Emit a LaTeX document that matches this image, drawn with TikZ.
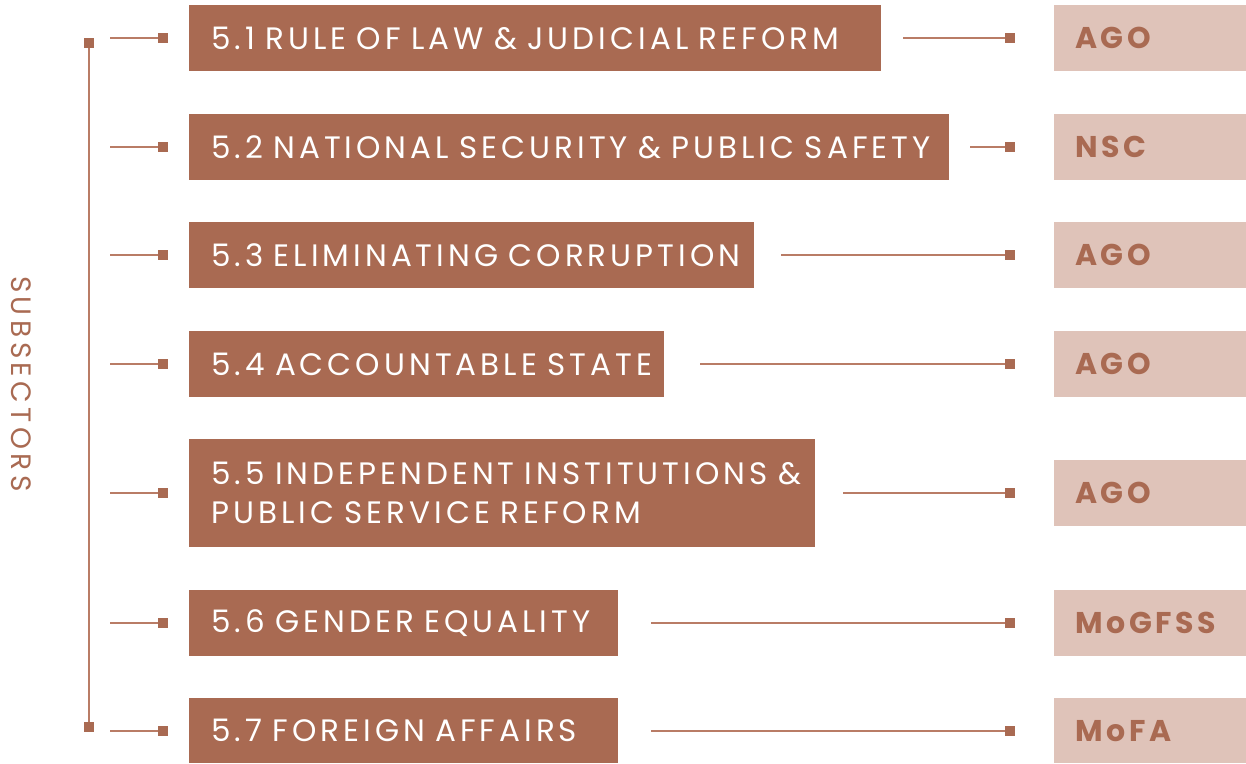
\documentclass[tikz,border=0pt]{standalone}
\usepackage{fontspec}
\setmainfont{Poppins}
\newfontfamily\labelfont[LetterSpace=13,WordSpace=2.1]{Poppins}
\newfontfamily\sidefont[LetterSpace=16]{Poppins}
\newfontfamily\tagfont[LetterSpace=12]{Poppins}
\definecolor{clay}{HTML}{A96A52}
\definecolor{sand}{HTML}{DFC3B9}
\definecolor{wire}{HTML}{B97C66}
\begin{document}
\begin{tikzpicture}[x=1pt,y={(0,-1pt)},
  topic/.style={fill=clay,text=white,anchor=north west,inner xsep=22pt,inner ysep=0pt,
    minimum height=66pt,align=left,font=\labelfont\fontsize{31}{39}\selectfont},
  agency/.style={fill=sand,text=clay,anchor=north west,inner xsep=21pt,inner ysep=0pt,
    minimum height=66pt,text width=150pt,align=left,font=\tagfont\fontsize{30}{39}\selectfont\bfseries},
  pin/.style={fill=clay,inner sep=0pt,minimum size=10pt},
  wireline/.style={draw=wire,line width=1.6pt}]
\useasboundingbox (0,0) rectangle (1246,763);

% subsector boxes (text width = box width - 44)
\node[topic,text width=648pt] (t1) at (189,5) {\mbox{5.1 RULE OF LAW \& JUDICIAL REFORM}};
\node[topic,text width=716pt] (t2) at (189,114) {\mbox{5.2 NATIONAL SECURITY \& PUBLIC SAFETY}};
\node[topic,text width=521pt] (t3) at (189,222) {\mbox{5.3 ELIMINATING CORRUPTION}};
\node[topic,text width=431pt] (t4) at (189,331) {\mbox{5.4 ACCOUNTABLE STATE}};
\node[topic,text width=582pt,minimum height=108pt] (t5) at (189,439)
  {\mbox{5.5 INDEPENDENT INSTITUTIONS \&}\\\mbox{PUBLIC SERVICE REFORM}};
\node[topic,text width=385pt] (t6) at (189,590) {\mbox{5.6 GENDER EQUALITY}};
\node[topic,text width=385pt,minimum height=65pt] (t7) at (189,698) {\mbox{5.7 FOREIGN AFFAIRS}};

% lead agencies
\node[agency] (a1) at (1054,5) {AGO};
\node[agency] (a2) at (1054,114) {NSC};
\node[agency] (a3) at (1054,222) {AGO};
\node[agency] (a4) at (1054,331) {AGO};
\node[agency] (a5) at (1054,460) {AGO};
\node[agency] (a6) at (1054,590) {MoGFSS};
\node[agency,minimum height=65pt] (a7) at (1054,698) {MoFA};

% bracket
\node[pin] (bt) at (89,43) {};
\node[pin] (bb) at (89,727) {};
\draw[wireline] (bt) -- (bb);
\node[text=clay,rotate=-90,font=\sidefont\fontsize{28}{30}\selectfont] (sub) at (21,384) {SUBSECTORS};

% connectors
\foreach \i/\y/\g in {1/38/22,2/147/21,3/255/27,4/364/36,5/493/28,6/623/33,7/731/33}{
  \coordinate (ls\i) at (110,\y);
  \node[pin] (lp\i) at (163,\y) {};
  \draw[wireline] (ls\i) -- (lp\i);
  \coordinate (rs\i) at ([xshift=\g pt]t\i.east |- 0,\y);
  \node[pin] (rp\i) at (1010,\y) {};
  \draw[wireline] (rs\i) -- (rp\i);
}
\end{tikzpicture}
\end{document}
